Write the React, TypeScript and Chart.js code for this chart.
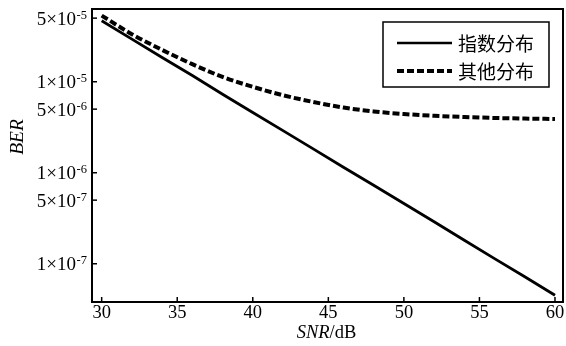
import { useEffect, useRef } from "react";
import { Chart, registerables } from "chart.js";

Chart.register(...registerables);

// ---- data ----
const snr = [30, 32, 34, 36, 38, 40, 42, 44, 46, 48, 50, 52, 54, 56, 58, 60];
const expBer = [4.68e-5, 2.94e-5, 1.85e-5, 1.17e-5, 7.3e-6, 4.6e-6, 2.9e-6, 1.83e-6, 1.15e-6, 7.3e-7, 4.6e-7, 2.9e-7, 1.81e-7, 1.14e-7, 7.2e-8, 4.5e-8];
const otherBer = [5.33e-5, 3.33e-5, 2.24e-5, 1.56e-5, 1.13e-5, 8.8e-6, 7.1e-6, 6.0e-6, 5.2e-6, 4.72e-6, 4.42e-6, 4.23e-6, 4.1e-6, 4.0e-6, 3.94e-6, 3.9e-6];
const seriesNames = ["指数分布", "其他分布"];
const xTicks = [30, 35, 40, 45, 50, 55, 60];
const yTicks = [5e-5, 1e-5, 5e-6, 1e-6, 5e-7, 1e-7];
const yTickMant = ["5", "1", "5", "1", "5", "1"];
const yTickExp = ["-5", "-5", "-6", "-6", "-7", "-7"];
const xTitleItalic = "SNR";
const xTitleRest = "/dB";
const yTitle = "BER";

const serif = '"Liberation Serif", "Times New Roman", serif';
const cjk = '"Noto Sans CJK SC", sans-serif';

const decorPlugin = {
  id: "decor",
  afterDraw(chart: any) {
    const { ctx, chartArea: a, scales } = chart;
    const xs = scales.x;
    const ys = scales.y;
    ctx.save();
    ctx.strokeStyle = "#000";
    ctx.fillStyle = "#000";
    // frame
    ctx.lineWidth = 2;
    ctx.strokeRect(a.left, a.top, a.right - a.left, a.bottom - a.top);
    // ticks (inward)
    ctx.lineWidth = 1.5;
    xTicks.forEach((v) => {
      const px = xs.getPixelForValue(v);
      ctx.beginPath();
      ctx.moveTo(px, a.bottom);
      ctx.lineTo(px, a.bottom - 5);
      ctx.stroke();
    });
    yTicks.forEach((v) => {
      const py = ys.getPixelForValue(v);
      ctx.beginPath();
      ctx.moveTo(a.left, py);
      ctx.lineTo(a.left + 5, py);
      ctx.stroke();
    });
    // x tick labels
    ctx.font = `18.5px ${serif}`;
    ctx.textAlign = "center";
    ctx.textBaseline = "alphabetic";
    xTicks.forEach((v) => {
      ctx.fillText(String(v), xs.getPixelForValue(v), a.bottom + 16);
    });
    // y tick labels
    yTicks.forEach((v, i) => {
      const py = ys.getPixelForValue(v);
      const right = a.left - 5;
      ctx.textAlign = "right";
      ctx.font = `12.5px ${serif}`;
      const ew = ctx.measureText(yTickExp[i]).width;
      ctx.fillText(yTickExp[i], right, py + 0.5);
      ctx.font = `19px ${serif}`;
      ctx.fillText(`${yTickMant[i]}×10`, right - ew - 0.5, py + 6.5);
    });
    // x title
    ctx.textAlign = "left";
    ctx.font = `italic 18.5px ${serif}`;
    const w1 = ctx.measureText(xTitleItalic).width;
    ctx.font = `18.5px ${serif}`;
    const w2 = ctx.measureText(xTitleRest).width;
    const cx = (a.left + a.right) / 2 - 1;
    const sx = cx - (w1 + w2) / 2;
    ctx.font = `italic 18.5px ${serif}`;
    ctx.fillText(xTitleItalic, sx, 338);
    ctx.font = `18.5px ${serif}`;
    ctx.fillText(xTitleRest, sx + w1, 338);
    // y title
    ctx.save();
    ctx.translate(18, 137);
    ctx.rotate(-Math.PI / 2);
    ctx.font = `italic 19.5px ${serif}`;
    ctx.textAlign = "center";
    ctx.textBaseline = "middle";
    ctx.fillText(yTitle, 0, 0);
    ctx.restore();
    // legend
    const lx = 383, ly = 22, lw = 166, lh = 65;
    ctx.fillStyle = "#fff";
    ctx.fillRect(lx, ly, lw, lh);
    ctx.fillStyle = "#000";
    ctx.lineWidth = 1.5;
    ctx.strokeRect(lx, ly, lw, lh);
    const rows = [43, 71];
    rows.forEach((ry, i) => {
      ctx.beginPath();
      ctx.lineWidth = i === 0 ? 2.5 : 4;
      ctx.setLineDash(i === 0 ? [] : [7, 3]);
      ctx.lineCap = "butt";
      ctx.moveTo(397, ry);
      ctx.lineTo(452, ry);
      ctx.stroke();
      ctx.setLineDash([]);
      ctx.font = `19px ${cjk}`;
      ctx.textAlign = "left";
      ctx.textBaseline = "middle";
      ctx.fillText(seriesNames[i], 458, ry + 1);
    });
    ctx.restore();
  },
};

export default function App() {
  const ref = useRef<HTMLCanvasElement>(null);
  useEffect(() => {
    document.body.style.margin = "0";
    const canvas = ref.current!;
    const chart = new Chart(canvas, {
      type: "line",
      data: {
        datasets: [
          {
            label: seriesNames[0],
            data: snr.map((x, i) => ({ x, y: expBer[i] })),
            borderColor: "#000",
            borderWidth: 2.8,
            pointRadius: 0,
            tension: 0,
            fill: false,
          },
          {
            label: seriesNames[1],
            data: snr.map((x, i) => ({ x, y: otherBer[i] })),
            borderColor: "#000",
            borderWidth: 4,
            borderDash: [7, 3],
            borderCapStyle: "butt",
            pointRadius: 0,
            cubicInterpolationMode: "monotone",
            fill: false,
          },
        ],
      },
      options: {
        responsive: false,
        animation: false,
        devicePixelRatio: 1,
        layout: { padding: { left: 0, top: 9, right: 3, bottom: 0 } },
        plugins: { legend: { display: false }, tooltip: { enabled: false } },
        scales: {
          x: {
            type: "linear",
            min: 29.36,
            max: 60.53,
            grid: { display: false },
            border: { display: false },
            ticks: { display: false },
            afterFit: (s: any) => {
              s.height = 44;
            },
          },
          y: {
            type: "logarithmic",
            min: 3.8e-8,
            max: 6.3e-5,
            grid: { display: false },
            border: { display: false },
            ticks: { display: false },
            afterFit: (s: any) => {
              s.width = 92;
            },
          },
        },
      },
      plugins: [decorPlugin],
    } as any);
    return () => chart.destroy();
  }, []);
  return (
    <div style={{ width: 566, height: 346, background: "#fff" }}>
      <canvas ref={ref} width={566} height={346} style={{ display: "block" }} />
    </div>
  );
}
